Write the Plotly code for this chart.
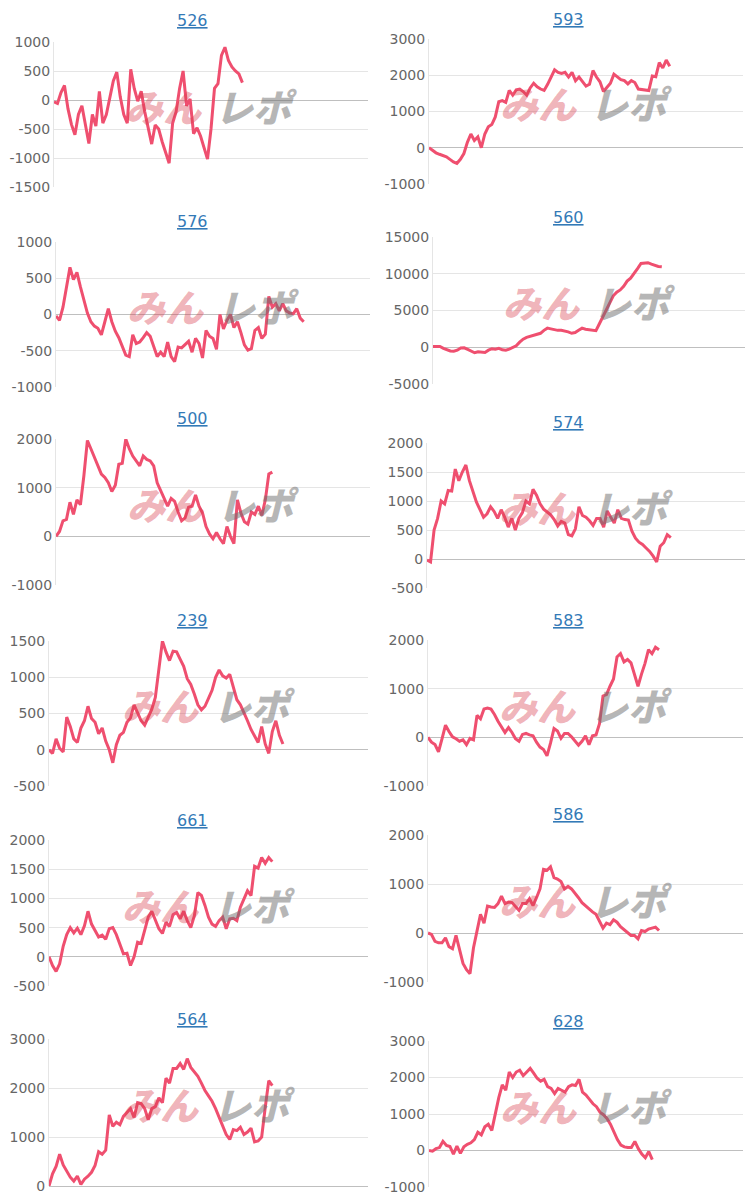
import plotly.graph_objects as go

# ---------------- data ----------------
TITLES = ["526", "593", "576", "560", "500", "574", "239", "583", "661", "586", "564", "628"]

s526 = [-30, -60, 130, 250, -150, -420, -600, -250, -100, -420, -750, -250, -450, 150, -400,
        -250, 50, 330, 480, 50, -250, -400, 530, 200, -20, 150, -200, -500, -760, -430,
        -500, -720, -900, -1090, -400, -200, 200, 500, -100, 20, -580, -480, -620, -800, -1020,
        -500, 200, 280, 770, 910, 680, 570, 500, 450, 300]

s593 = [0, -80, -140, -180, -210, -250, -320, -390, -430, -320,
        -160, 150, 380, 200, 300, 0, 380, 580, 640, 850,
        1270, 1300, 1250, 1580, 1450, 1600, 1620, 1550, 1450, 1650,
        1780, 1680, 1620, 1580, 1750, 1950, 2150, 2080, 2050, 2080,
        1950, 2080, 1850, 1950, 1820, 1700, 1750, 2130, 1950, 1820,
        1550, 1680, 1780, 2030, 1950, 1880, 1850, 1760, 1850, 1800,
        1620, 1600, 1600, 1580, 1980, 1960, 2350, 2200, 2420, 2250]

s576 = [-20, -80, 100, 350, 650, 480, 580, 380, 180, 20,
        -100, -160, -190, -280, -100, 80, -100, -230, -320, -450,
        -560, -580, -280, -400, -380, -320, -250, -300, -430, -580,
        -520, -580, -380, -580, -650, -450, -460, -410, -370, -520,
        -330, -400, -600, -220, -300, -330, -480, 0, -200, -80,
        0, -180, -100, -250, -420, -490, -470, -220, -180, -330,
        -270, 250, 100, 150, 50, 150, 50, 20, 10, 80,
        -50, -100]

s560 = [100, 100, 100, -150, -350, -500, -550, -400, -100, -80,
        -300, -550, -750, -620, -650, -700, -400, -200, -280, -150,
        -350, -400, -250, 0, 200, 700, 1100, 1350, 1500, 1600,
        1700, 1900, 2300, 2600, 2500, 2350, 2300, 2300, 2250, 2100,
        1900, 2000, 2300, 2600, 2450, 2400, 2350, 2250, 3200, 4100,
        5000, 6000, 7000, 7500, 7800, 8300, 9000, 9400, 10000, 10700,
        11400, 11500, 11500, 11300, 11100, 11000, 10950]

s500 = [0, 100, 320, 350, 700, 450, 750, 650, 1250, 1970,
        1800, 1620, 1450, 1280, 1210, 1100, 920, 1050, 1480, 1500,
        2000, 1800, 1650, 1550, 1450, 1650, 1580, 1550, 1450, 1100,
        950, 780, 620, 780, 720, 500, 320, 380, 600, 620,
        850, 620, 480, 200, 50, -50, 80, -50, -150, 200,
        0, -150, 750, 480, 300, 250, 500, 450, 620, 430,
        750, 1280, 1320]

s574 = [-20, -50, 500, 700, 1000, 950, 1180, 1170, 1550, 1350,
        1500, 1620, 1350, 1150, 980, 850, 720, 780, 900, 820,
        700, 850, 720, 550, 700, 500, 700, 800, 1000, 950,
        1200, 1100, 950, 860, 810, 760, 680, 570, 650, 620,
        420, 400, 520, 900, 750, 720, 660, 580, 700, 700,
        550, 830, 720, 620, 850, 700, 680, 670, 480, 360,
        290, 250, 190, 130, 50, -50, 220, 280, 420, 370]

s239 = [0, -50, 150, 20, -30, 450, 320, 150, 100, 300,
        400, 600, 430, 380, 220, 300, 120, 0, -180, 70,
        200, 240, 380, 440, 620, 520, 400, 340, 450, 560,
        720, 1100, 1500, 1350, 1230, 1360, 1350, 1250, 1150, 980,
        900, 770, 620, 550, 600, 710, 820, 1000, 1100, 1020,
        990, 1040, 870, 690, 620, 520, 400, 280, 180, 100,
        320, 80, -50, 250, 400, 200, 80]

s583 = [0, -100, -150, -300, -30, 250, 120, 10, -30, -80,
        -50, -150, -20, -50, 450, 380, 580, 600, 580, 470,
        330, 200, 100, 200, 100, -30, -80, 60, 80, 50,
        30, -100, -200, -250, -380, -120, 180, 130, -20, 80,
        80, 10, -70, -160, -80, 30, -150, 30, 50, 280,
        850, 880, 1050, 1200, 1650, 1720, 1550, 1600, 1530, 1300,
        1050, 1300, 1520, 1800, 1720, 1850, 1800]

s661 = [0, -150, -250, -120, 180, 380, 500, 410, 490, 380,
        530, 780, 560, 450, 340, 370, 300, 480, 500, 380,
        200, 50, 60, -150, 0, 250, 230, 450, 680, 780,
        620, 480, 400, 590, 520, 720, 760, 650, 780, 620,
        500, 700, 1100, 1050, 880, 680, 560, 520, 620, 680,
        480, 650, 660, 620, 850, 1000, 1130, 1050, 1550, 1520,
        1700, 1600, 1700, 1630]

s586 = [0, -30, -170, -200, -200, -100, -280, -320, -50, -350,
        -620, -750, -830, -300, 50, 380, 200, 550, 530, 520,
        600, 750, 600, 630, 620, 530, 460, 600, 600, 700,
        560, 720, 900, 1300, 1280, 1350, 1130, 1100, 1050, 900,
        950, 900, 820, 720, 620, 550, 500, 430, 380, 250,
        100, 200, 170, 270, 220, 130, 70, 0, -50, -50,
        -120, 50, 30, 80, 100, 120, 50]

s564 = [0, 250, 400, 650, 430, 290, 180, 100, 200, 30,
        140, 200, 280, 420, 700, 650, 730, 1450, 1220, 1300,
        1250, 1420, 1510, 1580, 1400, 1700, 1680, 1580, 1350, 1580,
        1620, 1800, 1700, 2200, 2100, 2400, 2400, 2500, 2380, 2600,
        2420, 2340, 2240, 2100, 1950, 1840, 1730, 1580, 1400, 1200,
        1050, 950, 1150, 1130, 1200, 1050, 1100, 1180, 900, 920,
        1000, 1600, 2150, 2050]

s628 = [0, -20, 50, 80, 250, 140, 110, -100, 120, -80,
        100, 170, 210, 300, 500, 430, 650, 720, 550, 1000,
        1450, 1800, 1650, 2150, 2000, 2150, 2200, 2050, 2150, 2250,
        2120, 1980, 1900, 1950, 1750, 1700, 1560, 1700, 1650, 1600,
        1750, 1800, 1780, 1950, 1600, 1520, 1400, 1280, 1200, 1050,
        980, 880, 720, 520, 300, 150, 100, 80, 80, 250,
        50, -100, -200, -30, -250]

SERIES = [s526, s593, s576, s560, s500, s574, s239, s583, s661, s586, s564, s628]

Y_MIN = [-1500, -1000, -1000, -5000, -1000, -500, -500, -1000, -500, -1000, 0, -1000]
Y_MAX = [1000, 3000, 1000, 15000, 2000, 2000, 1500, 2000, 2000, 2000, 3000, 3000]
Y_STEP = [500, 1000, 500, 5000, 1000, 500, 500, 1000, 500, 1000, 1000, 1000]
X_SLOTS = 90

# ---------------- layout ----------------
W, H = 750, 1198
# (left, right, top, bottom) in pixels
BOXES = [(54, 368, 42, 187), (429, 743, 39, 184),
         (56, 370, 242, 387), (433, 745, 237, 384),
         (56, 370, 439, 585), (427, 745, 443, 588),
         (49, 368, 641, 786), (428, 743, 640, 786),
         (49, 368, 840, 986), (428, 743, 835, 982),
         (49, 368, 1039, 1186), (429, 743, 1041, 1187)]
TITLE_Y = [20, 19, 221, 218, 419, 423, 620, 620, 820, 815, 1019, 1021]
TITLE_X = [192, 568]

LINE_COLOR = "#EF4F6F"
GRID = "rgba(0,0,0,0.1)"
ZERO = "rgba(0,0,0,0.25)"
TICK_FONT = dict(family="DejaVu Sans", size=14, color="#666666")
TITLE_FONT = dict(family="DejaVu Sans", size=16, color="#337ab7")

fig = go.Figure()
layout = dict(width=W, height=H, margin=dict(l=0, r=0, t=0, b=0, pad=0, autoexpand=False),
              paper_bgcolor="white", plot_bgcolor="white", showlegend=False)
annotations = []

for i, vals in enumerate(SERIES):
    n = i + 1
    xa = "x" if n == 1 else f"x{n}"
    ya = "y" if n == 1 else f"y{n}"
    sfx = "" if n == 1 else str(n)
    l, r, t, b = BOXES[i]
    tickvals = list(range(Y_MIN[i], Y_MAX[i] + 1, Y_STEP[i]))
    ticktext = [str(v) for v in tickvals]
    fig.add_trace(go.Scatter(x=list(range(len(vals))), y=vals, mode="lines",
                             line=dict(color=LINE_COLOR, width=3),
                             xaxis=xa, yaxis=ya, hoverinfo="skip"))
    layout["xaxis" + sfx] = dict(domain=[l / W, r / W], range=[0, X_SLOTS], anchor=ya,
                                 showgrid=False, zeroline=False, showticklabels=False,
                                 showline=False, ticks="", fixedrange=True, automargin=False)
    layout["yaxis" + sfx] = dict(domain=[1 - b / H, 1 - t / H], range=[Y_MIN[i], Y_MAX[i]],
                                 anchor=xa, tickmode="array", tickvals=tickvals, ticktext=ticktext,
                                 showgrid=True, gridcolor=GRID, gridwidth=1,
                                 zeroline=True, zerolinecolor=ZERO, zerolinewidth=1,
                                 showline=True, linecolor=GRID, linewidth=1, automargin=False,
                                 ticks="", tickfont=TICK_FONT, fixedrange=True)
    # title (link style)
    annotations.append(dict(text=f"<u>{TITLES[i]}</u>", x=TITLE_X[i % 2] / W, y=1 - TITLE_Y[i] / H,
                            xref="paper", yref="paper", showarrow=False,
                            xanchor="center", yanchor="middle", font=TITLE_FONT))
    # watermark
    annotations.append(dict(text="みん", x=0.35, y=0.56, xref=f"{xa} domain", yref=f"{ya} domain",
                            showarrow=False, xanchor="center", yanchor="middle",
                            font=dict(family="Noto Sans CJK JP", size=38, weight=900,
                                      style="italic", color="rgba(215,60,75,0.4)")))
    annotations.append(dict(text="レポ", x=0.645, y=0.56, xref=f"{xa} domain", yref=f"{ya} domain",
                            showarrow=False, xanchor="center", yanchor="middle",
                            font=dict(family="Noto Sans CJK JP", size=38, weight=900,
                                      style="italic", color="rgba(110,110,110,0.5)")))

layout["annotations"] = annotations
fig.update_layout(**layout)
POST = ("document.body.style.margin='0';document.body.style.padding='0';"
        "var gd=document.getElementById('{plot_id}');"
        "gd.style.position='fixed';gd.style.top='0px';gd.style.left='0px';")
fig.write_html("out.html", config={"displayModeBar": False}, post_script=POST)
